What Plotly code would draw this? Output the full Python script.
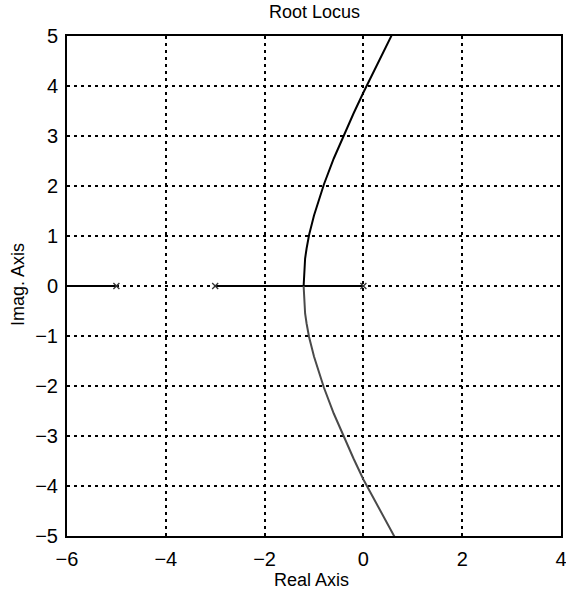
import plotly.graph_objects as go

# Root locus branches
upper_re = [-1.21, -1.20, -1.18, -1.15, -1.10, -1.00, -0.80, -0.60, -0.40, -0.20, 0.00, 0.20, 0.40, 0.60]
upper_im = [0.00, 0.35, 0.55, 0.75, 1.02, 1.41, 2.03, 2.55, 3.01, 3.45, 3.87, 4.28, 4.68, 5.07]
lower_re = [-1.21, -1.20, -1.18, -1.15, -1.10, -1.00, -0.80, -0.60, -0.40, -0.20, 0.00, 0.22, 0.44, 0.66]
lower_im = [0.00, -0.35, -0.55, -0.75, -1.02, -1.41, -2.03, -2.55, -3.01, -3.45, -3.87, -4.28, -4.68, -5.07]
# real-axis segments
seg1_re = [-6.0, -5.0]
seg2_re = [-3.0, -1.21, 0.0]
poles_re = [-5.0, -3.0, 0.0]
poles_im = [0.0, 0.0, 0.0]

x_ticks = [-6, -4, -2, 0, 2, 4]
y_ticks = [-5, -4, -3, -2, -1, 0, 1, 2, 3, 4, 5]

FONT = "Liberation Sans, Arial, Helvetica, sans-serif"

fig = go.Figure()
fig.add_trace(go.Scatter(x=seg1_re, y=[0] * len(seg1_re), mode="lines",
                         line=dict(color="black", width=2), showlegend=False))
fig.add_trace(go.Scatter(x=seg2_re, y=[0] * len(seg2_re), mode="lines",
                         line=dict(color="black", width=2), showlegend=False))
fig.add_trace(go.Scatter(x=upper_re, y=upper_im, mode="lines",
                         line=dict(color="black", width=2), showlegend=False))
fig.add_trace(go.Scatter(x=lower_re, y=lower_im, mode="lines",
                         line=dict(color="#4a4a4a", width=2), showlegend=False))
fig.add_trace(go.Scatter(x=poles_re, y=poles_im, mode="markers",
                         marker=dict(symbol="x-thin", size=6, line=dict(color="#333333", width=1.3)),
                         showlegend=False))

axis_common = dict(
    showgrid=True, gridcolor="black", gridwidth=1.5, griddash="3px,4px",
    zeroline=False, showline=True, linecolor="black", linewidth=2, mirror=True,
    ticks="", tickfont=dict(family=FONT, size=20, color="black"), automargin=False,
    ticklabeloverflow="allow",
)

fig.update_layout(
    width=566, height=598,
    margin=dict(l=67, r=5, t=36, b=62),
    paper_bgcolor="white", plot_bgcolor="white",
    xaxis=dict(range=[-6, 4], tickvals=x_ticks, ticktext=["\u22126", "\u22124", "\u22122", "0", "2", "4"],
               ticklabelstandoff=4, **axis_common),
    yaxis=dict(range=[-5, 5], tickvals=y_ticks,
               ticktext=["\u22125", "\u22124", "\u22123", "\u22122", "\u22121", "0", "1", "2", "3", "4", "5"],
               ticklabelstandoff=3, **axis_common),
    font=dict(family=FONT, color="black"),
    annotations=[
        dict(text="Root Locus", xref="paper", yref="paper", x=0.5, y=1.048,
             xanchor="center", yanchor="middle", showarrow=False,
             font=dict(family=FONT, size=18, color="black")),
        dict(text="Real Axis", xref="paper", yref="paper", x=0.494, y=-0.088,
             xanchor="center", yanchor="middle", showarrow=False,
             font=dict(family=FONT, size=18, color="black")),
        dict(text="Imag. Axis", xref="paper", yref="paper", x=-0.0992, y=0.504,
             xanchor="center", yanchor="middle", showarrow=False, textangle=-90,
             font=dict(family=FONT, size=18, color="black")),
    ],
)

fig.write_html("out.html", config={"displayModeBar": False},
               post_script="document.body.style.margin='0';document.body.style.overflow='hidden';")
